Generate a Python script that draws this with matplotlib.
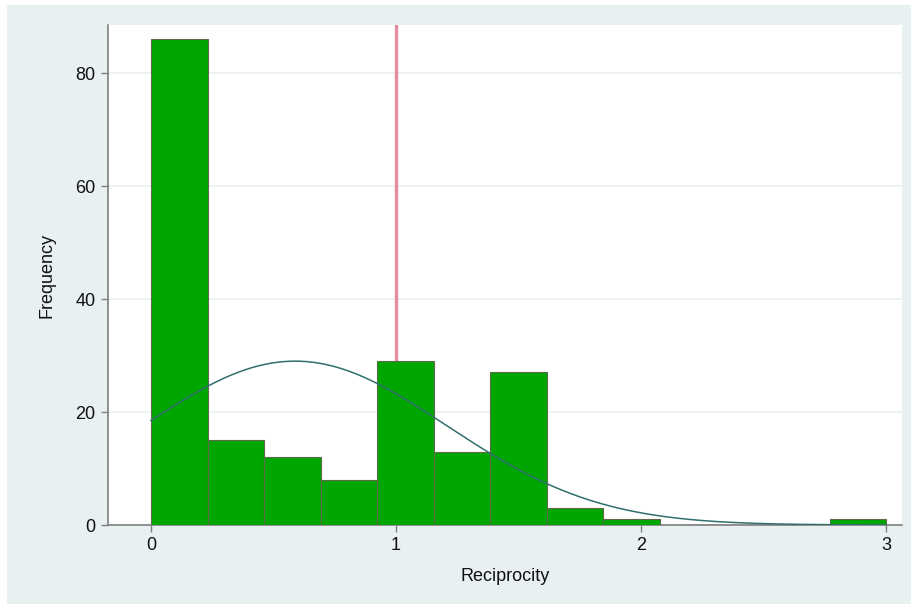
import numpy as np
import matplotlib.pyplot as plt
from matplotlib.patches import Rectangle

# histogram of reciprocity: 13 equal bins on [0, 3]
bin_edges = np.linspace(0, 3, 14)
counts = [86, 15, 12, 8, 29, 13, 27, 3, 1, 0, 0, 0, 1]

# normal overlay parameters (mean, sd) for the same sample
mu, sigma = 0.588, 0.619
mark_x = 1.0

x_ticks = [0, 1, 2, 3]
y_ticks = [0, 20, 40, 60, 80]

plt.rcParams['font.family'] = ['Liberation Sans', 'DejaVu Sans']

fig = plt.figure(figsize=(9.13, 6.05), dpi=100, facecolor='white')
# light panel behind the graph
fig.add_artist(Rectangle((7 / 913, 1 / 605), 904 / 913, 599 / 605, transform=fig.transFigure,
                         facecolor='#e9f0f2', edgecolor='none', zorder=-10))

ax = fig.add_axes([108 / 913, 1 - 525 / 605, (902 - 108) / 913, (525 - 25) / 605])
ax.set_facecolor('white')

widths = np.diff(bin_edges)
ax.bar(bin_edges[:-1], counts, width=widths, align='edge',
       color='#00a600', edgecolor='#5d6b4c', linewidth=0.8, zorder=3)

ax.axvline(mark_x, color='#e68ca2', linewidth=2.4, zorder=2)

n = sum(counts)
xs = np.linspace(0, 3, 400)
dens = n * widths[0] * np.exp(-(xs - mu) ** 2 / (2 * sigma ** 2)) / (sigma * np.sqrt(2 * np.pi))
ax.plot(xs, dens, color='#2f6f6c', linewidth=1.1, zorder=4)

ax.set_xlim(-0.1755, 3.065)
ax.set_ylim(0, 88.5)
ax.set_xticks(x_ticks)
ax.set_yticks(y_ticks)
ax.yaxis.grid(True, color='#eaf1f2', linewidth=1.3, zorder=0)
ax.set_axisbelow(True)

for side in ['top', 'right']:
    ax.spines[side].set_visible(False)
for side in ['left', 'bottom']:
    ax.spines[side].set_color('#7f7f7f')
    ax.spines[side].set_linewidth(1.2)
ax.tick_params(axis='both', direction='out', length=5, width=1, color='#7f7f7f',
               labelsize=13, labelcolor='#111111', pad=4)

ax.set_xlabel('Reciprocity', fontsize=13, color='#111111', labelpad=10)
ax.set_ylabel('Frequency', fontsize=13, color='#111111', labelpad=14)

fig.savefig('out.png', dpi=100, facecolor=fig.get_facecolor())
